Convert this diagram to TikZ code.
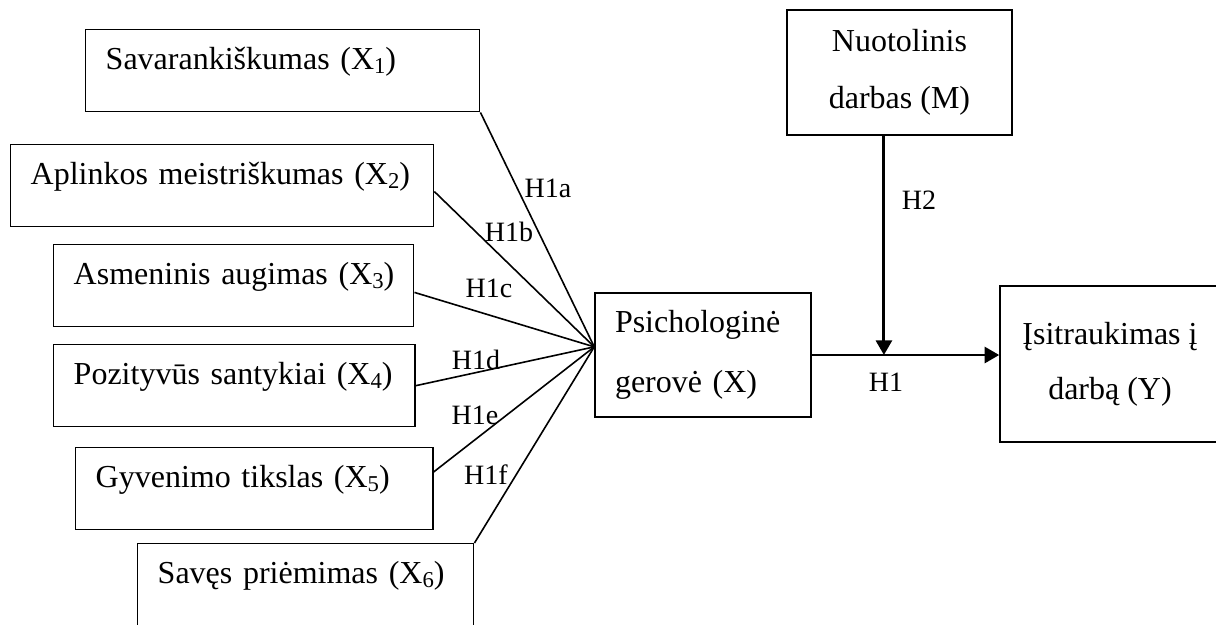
\documentclass[tikz,border=0pt]{standalone}
\usepackage{fontspec}
\setmainfont{Liberation Serif}
\usepackage{tikz}
\usetikzlibrary{arrows.meta,positioning,calc}

\newcommand{\subidx}[1]{\raisebox{-0.25ex}{\fontsize{8.5}{9}\selectfont #1}}

\tikzset{
    dimbox/.style={draw, line width=0.55pt, anchor=north west, align=left,
        inner xsep=7.5pt, inner ysep=0pt, text height=15pt, text depth=15.75pt,
        font=\fontsize{12}{14}\selectfont,
        execute at begin node=\hbox\bgroup, execute at end node=\egroup},
    mainbox/.style={draw, line width=0.55pt, inner xsep=7.5pt, inner ysep=0pt},
    link/.style={line width=0.6pt},
    effect/.style={line width=1.1pt, -{Triangle[length=5.5pt, width=6pt]}},
    hyp/.style={font=\fontsize{10.5}{12}\selectfont, inner sep=0pt}
}

\begin{document}
\begin{tikzpicture}[x=0.375pt, y=-0.375pt]
    \useasboundingbox (0,0) rectangle (1216,624);

    % Dimensions of wellbeing
    \node[dimbox, text width=132.75pt] (x1) at (85,29) {Savarankiškumas (X\subidx{1})};
    \node[dimbox, text width=143.6pt] (x2) at (10,144) {Aplinkos meistriškumas (X\subidx{2})};
    \node[dimbox, text width=120pt] (x3) at (53,244) {Asmeninis augimas (X\subidx{3})};
    \node[dimbox, text width=120.4pt] (x4) at (53,344) {Pozityvūs santykiai (X\subidx{4})};
    \node[dimbox, text width=118.9pt] (x5) at (75,447) {Gyvenimo tikslas (X\subidx{5})};
    \node[dimbox, text width=111pt] (x6) at (137,543) {Savęs priėmimas (X\subidx{6})};

    % Main constructs
    \node[mainbox, align=left, text width=66pt, minimum height=46.5pt,
        font=\fontsize{12}{22.5}\selectfont] (psy) at (703,355) {Psichologinė\\gerovė (X)};
    \node[mainbox, align=center, minimum width=84.4pt, minimum height=46.9pt,
        font=\fontsize{12}{21.4}\selectfont] (m) at (899.5,72.5) {Nuotolinis\\darbas (M)};
    \node[mainbox, align=center, minimum width=82.5pt, minimum height=58.5pt,
        font=\fontsize{12}{20.6}\selectfont] (y) at (1110,364) {Įsitraukimas į\\darbą (Y)};

    % Meeting points
    \coordinate (hub) at ($(psy.north west)!0.435!(psy.south west)$);
    \coordinate (join) at ($(psy.east)!0.385!(psy.east -| y.west)$);

    % Links into wellbeing
    \draw[link] (x1.south east) -- (hub);
    \draw[link] ($(x2.north east)!0.57!(x2.south east)$) -- (hub);
    \draw[link] ($(x3.north east)!0.58!(x3.south east)$) -- (hub);
    \draw[link] (x4.east) -- (hub);
    \draw[link] ($(x5.north east)!0.3!(x5.south east)$) -- (hub);
    \draw[link] (x6.north east) -- (hub);

    % Effect and moderation
    \draw[effect] (psy.east) -- (psy.east -| y.west);
    \draw[effect] (m.south -| join) -- (join);

    % Hypotheses
    \node[hyp] (h1a) at (548,188) {H1a};
    \node[hyp] (h1b) at (509,232) {H1b};
    \node[hyp] (h1c) at (489,288) {H1c};
    \node[hyp] (h1d) at (476,360) {H1d};
    \node[hyp] (h1e) at (475,415) {H1e};
    \node[hyp] (h1f) at (486,475) {H1f};
    \node[hyp] (h2) at (919,200) {H2};
    \node[hyp] (h1) at (886,382) {H1};
\end{tikzpicture}
\end{document}
